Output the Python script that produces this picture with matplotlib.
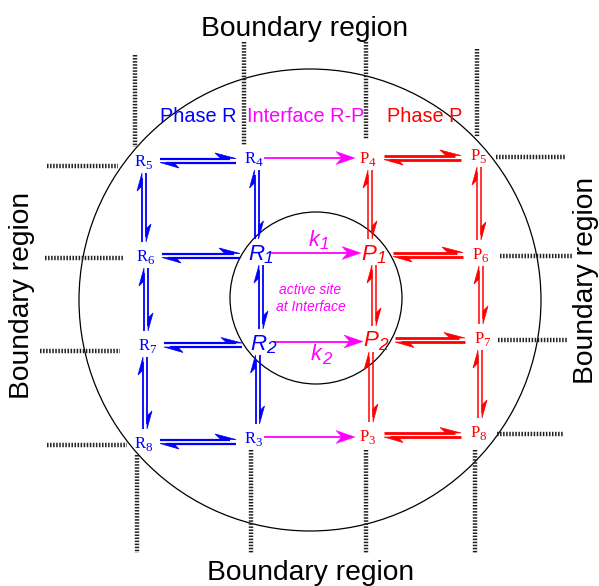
import numpy as np
import matplotlib.pyplot as plt
from matplotlib.patches import Circle, Polygon

plt.rcParams['font.family'] = ['Liberation Sans', 'DejaVu Sans']
plt.rcParams['lines.scale_dashes'] = False

# species grid (pixel positions of the labels)
node_names = ['R5', 'R4', 'P4', 'P5',
              'R6', 'R1', 'P1', 'P6',
              'R7', 'R2', 'P2', 'P7',
              'R8', 'R3', 'P3', 'P8']
node_x = [143, 253, 367, 478,
          145, 260, 373, 480,
          147, 262, 375, 482,
          143, 253, 367, 478]
node_y = [163, 160, 160, 157,
          258, 255, 255, 256,
          347, 345, 342, 340,
          445, 440, 438, 434]
site_nodes = ['R1', 'R2', 'P1', 'P2']

# reversible steps (horizontal, then vertical)
equilibria_h = [('R5', 'R4'), ('R6', 'R1'), ('R7', 'R2'), ('R8', 'R3'),
                ('P4', 'P5'), ('P1', 'P6'), ('P2', 'P7'), ('P3', 'P8')]
equilibria_v = [('R5', 'R6'), ('R6', 'R7'), ('R7', 'R8'),
                ('R4', 'R1'), ('R1', 'R2'), ('R2', 'R3'),
                ('P4', 'P1'), ('P1', 'P2'), ('P2', 'P3'),
                ('P5', 'P6'), ('P6', 'P7'), ('P7', 'P8')]
# irreversible transfer R -> P
transfers = [('R4', 'P4', ''), ('R1', 'P1', 'k1'), ('R2', 'P2', 'k2'), ('R3', 'P3', '')]

# boundary hatch segments
top_x, top_y0, top_y1 = [135, 244, 366, 477], [55, 42, 42, 49], [147, 145, 139, 137]
bot_x, bot_y0, bot_y1 = [137, 251, 366, 475], [455, 450, 450, 450], [553, 553, 553, 553]
left_y, left_x0, left_x1 = [166, 258, 351, 445], [47, 45, 40, 47], [118, 123, 120, 127]
right_y, right_x0, right_x1 = [157, 256, 340, 434], [496, 500, 498, 497], [565, 572, 568, 563]

pos = {n: (x, y) for n, x, y in zip(node_names, node_x, node_y)}

BLUE, RED, MAG = '#0000ff', '#ff0000', '#ff00ff'


def harpoon(ax, x0, y0, x1, y1, color, lw, L, w):
    dx, dy = x1 - x0, y1 - y0
    d = np.hypot(dx, dy)
    ux, uy = dx / d, dy / d
    nx, ny = uy, -ux  # left side of travel (y axis points down)
    ax.plot([x0, x1 - 0.3 * L * ux], [y0, y1 - 0.3 * L * uy], color=color, lw=lw,
            solid_capstyle='butt', zorder=2)
    pts = [(x1, y1), (x1 - L * ux + w * nx, y1 - L * uy + w * ny), (x1 - 0.72 * L * ux, y1 - 0.72 * L * uy)]
    ax.add_patch(Polygon(pts, closed=True, fc=color, ec=color, lw=0.5, zorder=2))


def full_arrow(ax, x0, y0, x1, y1, color, lw, L, w):
    d = np.hypot(x1 - x0, y1 - y0)
    ux, uy = (x1 - x0) / d, (y1 - y0) / d
    nx, ny = uy, -ux
    ax.plot([x0, x1 - 0.7 * L * ux], [y0, y1 - 0.7 * L * uy], color=color, lw=lw, zorder=2)
    pts = [(x1, y1), (x1 - L * ux + w * nx, y1 - L * uy + w * ny),
           (x1 - 0.7 * L * ux, y1 - 0.7 * L * uy), (x1 - L * ux - w * nx, y1 - L * uy - w * ny)]
    ax.add_patch(Polygon(pts, closed=True, fc=color, ec=color, lw=0.3, zorder=2))


def sub_label(ax, x, y, main, sub, color, size, family, style, shift):
    # main letter plus a subscript glued to its lower right corner
    t = ax.text(x - shift, y, main, color=color, fontsize=size, family=family, style=style,
                ha='center', va='center', zorder=3)
    ax.annotate(sub, xy=(0.98, 0.28), xycoords=t, color=color, fontsize=size * 0.78,
                family=family, style=style, ha='left', va='center', zorder=3)


fig = plt.figure(figsize=(5.99, 5.86), dpi=100)
ax = fig.add_axes([0, 0, 1, 1])
ax.set_xlim(0, 599)
ax.set_ylim(586, 0)
ax.axis('off')

# circles
ax.add_patch(Circle((310, 300), 231, fill=False, ec='black', lw=0.9, zorder=1))
ax.add_patch(Circle((316, 298), 86, fill=False, ec='black', lw=0.9, zorder=1))

# boundary hatches
hatch = dict(color='#222222', lw=3.2, dashes=(1.1, 1.1), solid_capstyle='butt', zorder=1)
for x, a, b in zip(top_x, top_y0, top_y1):
    ax.plot([x, x], [a, b], **hatch)
for x, a, b in zip(bot_x, bot_y0, bot_y1):
    ax.plot([x, x], [a, b], **hatch)
for y, a, b in zip(left_y, left_x0, left_x1):
    ax.plot([a, b], [y, y], **hatch)
for y, a, b in zip(right_y, right_x0, right_x1):
    ax.plot([a, b], [y, y], **hatch)

# horizontal equilibria
for a, b in equilibria_h:
    (xa, ya), (xb, yb) = pos[a], pos[b]
    y = (ya + yb) / 2 - 1
    sa = 20 if a in site_nodes else 17
    sb = 20 if b in site_nodes else 17
    red = a.startswith('P')
    col, lw = (RED, 2.0) if red else (BLUE, 1.6)
    g = 2.0
    harpoon(ax, xa + sa, y - g, xb - sb, y - g, col, lw, 21, 5.5)
    harpoon(ax, xb - sb, y + g, xa + sa, y + g, col, lw, 19, 5.5)

# vertical equilibria
for a, b in equilibria_v:
    (xa, ya), (xb, yb) = pos[a], pos[b]
    x = (xa + xb) / 2
    red = a.startswith('P')
    col, lw = (RED, 1.1) if red else (BLUE, 1.3)
    g = 2.0
    harpoon(ax, x - g, yb - 16, x - g, ya + 10, col, lw, 18, 5)
    harpoon(ax, x + g, ya + 10, x + g, yb - 16, col, lw, 18, 5)

# R -> P transfer arrows
for a, b, k in transfers:
    (xa, ya), (xb, yb) = pos[a], pos[b]
    y = (ya + yb) / 2 - 2
    full_arrow(ax, xa + 12, y, xb - 12, y, MAG, 1.3, 19, 6.5)
    if k:
        dy = -13 if k == 'k1' else 13
        sub_label(ax, (xa + xb) / 2 + 2, y + dy, k[0], k[1], MAG, 15.5, 'Liberation Sans',
                  'italic', 4)

# species labels
for n, x, y in zip(node_names, node_x, node_y):
    col = RED if n.startswith('P') else BLUE
    if n in site_nodes:
        sub_label(ax, x, y - 1, n[0], n[1], col, 16, 'Liberation Sans', 'italic', 4)
    else:
        sub_label(ax, x, y - 1, n[0], n[1], col, 12, 'Liberation Serif', 'normal', 3)

ax.text(310, 290, 'active site', color=MAG, fontsize=10, style='italic', ha='center', va='center')
ax.text(311, 307, 'at Interface', color=MAG, fontsize=10, style='italic', ha='center', va='center')

# phase headers
ax.text(198, 117, 'Phase R', color=BLUE, fontsize=14.3, ha='center', va='center')
ax.text(306, 117, 'Interface R-P', color=MAG, fontsize=14.3, ha='center', va='center')
ax.text(425, 117, 'Phase P', color=RED, fontsize=14.3, ha='center', va='center')

# boundary labels
bkw = dict(fontsize=20.3, color='black', ha='center', va='baseline', rotation_mode='anchor')
ax.text(305, 36, 'Boundary region', **bkw)
ax.text(311, 580, 'Boundary region', **bkw)
ax.text(29, 295, 'Boundary region', rotation=90, **bkw)
ax.text(593, 280, 'Boundary region', rotation=90, **bkw)

fig.savefig('out.png', dpi=100)
